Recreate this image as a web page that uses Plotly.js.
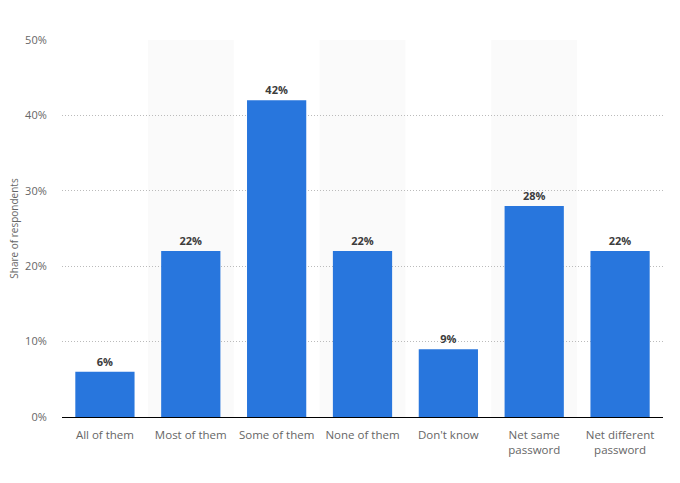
<!DOCTYPE html>
<html>
<head>
<meta charset="utf-8">
<script src="https://cdn.plot.ly/plotly-3.0.1.min.js"></script>
<style>html,body{margin:0;padding:0;background:#fff;}#chart{width:680px;height:483px;}</style>
</head>
<body>
<div id="chart"></div>
<script>
var categories = ["All of them", "Most of them", "Some of them", "None of them", "Don't know", "Net same<br>password", "Net different<br>password"];
var values = [6, 22, 42, 22, 9, 28, 22];
var yTickVals = [0, 10, 20, 30, 40, 50];
var yTickText = ["0%", "10%", "20%", "30%", "40%", "50%"];

var shapes = [];
for (var i = 1; i < categories.length; i += 2) {
  shapes.push({type: 'rect', xref: 'x', yref: 'paper', x0: i - 0.5, x1: i + 0.5, y0: 0, y1: 1,
    fillcolor: '#fafafa', line: {width: 0}, layer: 'below'});
}

var trace = {
  type: 'bar',
  x: categories.map(function(c, i){ return i; }),
  y: values,
  marker: {color: '#2876dd'},
  width: 0.69,
  text: values.map(function(v){ return '<b>' + v + '%</b>'; }),
  textposition: 'outside',
  textfont: {family: 'Open Sans, sans-serif', size: 11, color: '#3c3c3c'},
  cliponaxis: false,
  hoverinfo: 'none'
};

var layout = {
  width: 680, height: 483,
  margin: {l: 62, r: 17, t: 40, b: 66},
  paper_bgcolor: '#fff', plot_bgcolor: 'rgba(0,0,0,0)',
  showlegend: false,
  shapes: shapes,
  xaxis: {
    range: [-0.5, categories.length - 0.5],
    tickvals: categories.map(function(c, i){ return i; }),
    ticktext: categories,
    tickfont: {family: 'Open Sans, sans-serif', size: 11.5, color: '#666'},
    showgrid: false, zeroline: false,
    showline: true, linecolor: '#000', linewidth: 1,
    ticks: 'outside', ticklen: 7, tickcolor: 'rgba(0,0,0,0)'
  },
  yaxis: {
    range: [0, 50],
    tickvals: yTickVals,
    ticktext: yTickText,
    tickfont: {family: 'Open Sans, sans-serif', size: 11, color: '#666'},
    showgrid: true, gridcolor: '#bbbbbb', griddash: '1px,2px', gridwidth: 1,
    zeroline: false, showline: false,
    ticks: 'outside', ticklen: 12, tickcolor: 'rgba(0,0,0,0)',
    title: {text: 'Share of respondents', font: {family: 'Open Sans, sans-serif', size: 10, color: '#666'}, standoff: 4}
  },
  font: {family: 'Open Sans, sans-serif'}
};

Plotly.newPlot('chart', [trace], layout, {displayModeBar: false, staticPlot: true});
</script>
</body>
</html>
